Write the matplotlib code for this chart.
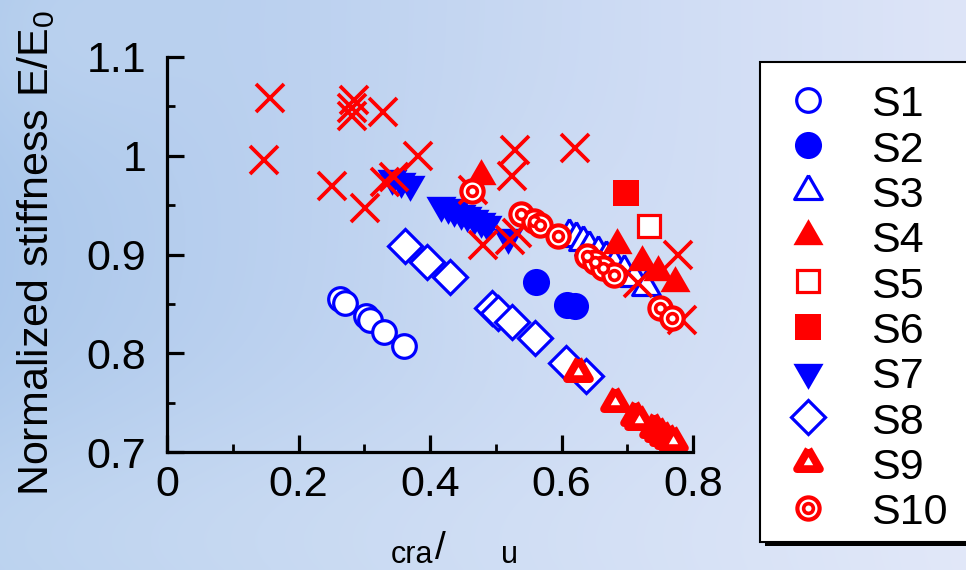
import numpy as np
import matplotlib
matplotlib.use("Agg")
import matplotlib.pyplot as plt
from matplotlib.lines import Line2D
from matplotlib.patches import Rectangle
from matplotlib.ticker import MultipleLocator

plt.rcParams['font.family'] = ['Liberation Sans', 'DejaVu Sans']
plt.rcParams['mathtext.fontset'] = 'custom'
plt.rcParams['mathtext.rm'] = 'Liberation Sans'
plt.rcParams['mathtext.it'] = 'Liberation Sans:italic'

# ---- data: strain ratio vs normalized stiffness ----
s1_x = [0.263, 0.271, 0.303, 0.309, 0.330, 0.360]
s1_y = [0.855, 0.851, 0.838, 0.834, 0.822, 0.807]

s2_x = [0.561, 0.608, 0.620]
s2_y = [0.872, 0.849, 0.848]

s3_x = [0.612, 0.622, 0.632, 0.642, 0.655, 0.668, 0.680, 0.695, 0.710, 0.728]
s3_y = [0.920, 0.917, 0.913, 0.908, 0.903, 0.897, 0.890, 0.883, 0.876, 0.867]

s4_x = [0.478, 0.684, 0.722, 0.747, 0.773]
s4_y = [0.980, 0.910, 0.892, 0.882, 0.871]

s5_x = [0.733]
s5_y = [0.929]

s6_x = [0.698]
s6_y = [0.962]

s7_x = [0.342, 0.356, 0.370, 0.417, 0.427, 0.437, 0.447, 0.457, 0.467, 0.477, 0.487, 0.519]
s7_y = [0.977, 0.974, 0.971, 0.950, 0.948, 0.945, 0.942, 0.940, 0.937, 0.934, 0.931, 0.918]

s8_x = [0.362, 0.395, 0.430, 0.494, 0.503, 0.524, 0.560, 0.607, 0.637]
s8_y = [0.909, 0.892, 0.877, 0.846, 0.841, 0.832, 0.815, 0.790, 0.777]

s9_x = [0.625, 0.681, 0.712, 0.718, 0.740, 0.748, 0.756, 0.764, 0.770]
s9_y = [0.781, 0.751, 0.736, 0.732, 0.724, 0.720, 0.716, 0.713, 0.711]

s10_x = [0.464, 0.538, 0.558, 0.567, 0.595, 0.639, 0.651, 0.663, 0.680, 0.750, 0.768]
s10_y = [0.964, 0.941, 0.934, 0.930, 0.919, 0.898, 0.892, 0.886, 0.879, 0.846, 0.836]

other_x = [0.157, 0.148, 0.284, 0.282, 0.281, 0.329, 0.251, 0.301, 0.332, 0.345, 0.382,
           0.465, 0.529, 0.525, 0.481, 0.522, 0.532, 0.620, 0.716, 0.777, 0.783]
other_y = [1.058, 0.996, 1.056, 1.048, 1.040, 1.044, 0.969, 0.947, 0.973, 0.978, 1.000,
           0.965, 1.006, 0.980, 0.910, 0.915, 0.922, 1.008, 0.871, 0.899, 0.834]

labels = ['S1', 'S2', 'S3', 'S4', 'S5', 'S6', 'S7', 'S8', 'S9', 'S10']
x_ticks = [0, 0.2, 0.4, 0.6, 0.8]
x_ticklabels = ['0', '0.2', '0.4', '0.6', '0.8']
y_ticks = [0.7, 0.8, 0.9, 1.0, 1.1]
y_ticklabels = ['0.7', '0.8', '0.9', '1', '1.1']

BLUE = '#0000ff'
RED = '#ff0000'
W, H = 966, 570

tri_up = [(0, 1), (-0.866, -0.5), (0.866, -0.5), (0, 1)]
tri_dn = [(0, -1), (-0.866, 0.5), (0.866, 0.5), (0, -1)]

# marker styles: list of (marker kwargs) layers per series
styles = [
    [dict(marker='o', ms=17, mfc='white', mec=BLUE, mew=2.3)],
    [dict(marker='o', ms=19.5, mfc=BLUE, mec=BLUE, mew=0)],
    [dict(marker=tri_up, ms=23, mfc='white', mec=BLUE, mew=2.3)],
    [dict(marker=tri_up, ms=25, mfc=RED, mec=RED, mew=0)],
    [dict(marker='s', ms=16, mfc='white', mec=RED, mew=2.3)],
    [dict(marker='s', ms=19, mfc=RED, mec=RED, mew=0)],
    [dict(marker=tri_dn, ms=25, mfc=BLUE, mec=BLUE, mew=0)],
    [dict(marker='D', ms=17.5, mfc='white', mec=BLUE, mew=2.3)],
    [dict(marker=tri_up, ms=19, mfc='white', mec=RED, mew=5.6)],
    [dict(marker='o', ms=16, mfc='white', mec=RED, mew=3.0),
     dict(marker='o', ms=7, mfc='white', mec=RED, mew=2.6)],
]
series = [(s1_x, s1_y), (s2_x, s2_y), (s3_x, s3_y), (s4_x, s4_y), (s5_x, s5_y),
          (s6_x, s6_y), (s7_x, s7_y), (s8_x, s8_y), (s9_x, s9_y), (s10_x, s10_y)]

fig = plt.figure(figsize=(W / 100, H / 100), dpi=100)

# soft blue backdrop
bg = fig.add_axes([0, 0, 1, 1], zorder=-10)
yy, xx = np.mgrid[0:1:285j, 0:1:483j]
left_c = np.array([170, 199, 235]) / 255
right_c = np.array([222, 229, 248]) / 255
t = np.clip(xx ** 0.9, 0, 1)[..., None]
img = left_c * (1 - t) + right_c * t
# lighter band toward the bottom and top-left corner
bright = 0.10 * np.exp(-((yy - 0.95) / 0.25) ** 2) * (1 - 0.5 * xx)
bright += 0.06 * np.exp(-((xx - 0.05) / 0.15) ** 2 - ((yy - 0.05) / 0.2) ** 2)
bright += 0.04 * np.exp(-((xx - 0.55) / 0.12) ** 2 - ((yy - 0.45) / 0.2) ** 2)
img = np.clip(img + bright[..., None] * (1 - img) * 2.2, 0, 1)
bg.imshow(img, aspect='auto', extent=[0, 1, 0, 1], origin='upper', interpolation='bicubic')
bg.set_axis_off()

ax = fig.add_axes([167 / W, 1 - 452 / H, (693 - 167) / W, (452 - 57) / H])
ax.patch.set_alpha(0)

for (sx, sy), layers in zip(series[:8], styles[:8]):
    for st in layers:
        ax.plot(sx, sy, linestyle='none', clip_on=False, **st)
ax.plot(other_x, other_y, linestyle='none', marker='x', ms=20.5, mec=RED, mew=2.7, clip_on=False)
for (sx, sy), layers in zip(series[8:], styles[8:]):
    for st in layers:
        ax.plot(sx, sy, linestyle='none', clip_on=False, **st)

ax.set_xlim(0, 0.8)
ax.set_ylim(0.7, 1.1)
ax.set_xticks(x_ticks)
ax.set_xticklabels(x_ticklabels)
ax.set_yticks(y_ticks)
ax.set_yticklabels(y_ticklabels)
ax.xaxis.set_minor_locator(MultipleLocator(0.1))
ax.yaxis.set_minor_locator(MultipleLocator(0.05))
for side in ('top', 'right'):
    ax.spines[side].set_visible(False)
for side in ('left', 'bottom'):
    ax.spines[side].set_linewidth(2.3)
ax.tick_params(which='major', direction='in', length=12, width=2.3, labelsize=31)
ax.tick_params(which='minor', direction='in', length=6, width=2.0)
ax.tick_params(axis='y', which='major', pad=15)
ax.tick_params(axis='x', which='major', pad=9)

fig.text(36 / W, 1 - 253 / H, 'Normalized stiffness E/E$_\\mathrm{0}$', rotation=90,
         ha='center', va='center', fontsize=31)

# x-axis label pieces
fig.text(391 / W, 1 - 563 / H, 'cra', fontsize=22, ha='left', va='baseline')
fig.text(435 / W, 1 - 559 / H, '/', fontsize=28, ha='left', va='baseline')
fig.text(501 / W, 1 - 563 / H, 'u', fontsize=22, ha='left', va='baseline')

# legend box with drop shadow
fig.add_artist(Rectangle((765 / W, 1 - 546 / H), 240 / W, (546 - 66) / H,
                         transform=fig.transFigure, facecolor='black', edgecolor='none', zorder=5))
fig.add_artist(Rectangle((760 / W, 1 - 542 / H), 240 / W, (542 - 62) / H,
                         transform=fig.transFigure, facecolor='white', edgecolor='black',
                         linewidth=1.5, zorder=6))
row0, step = 100, 45.3
for i, (lab, layers) in enumerate(zip(labels, styles)):
    yc = 1 - (row0 + step * i) / H
    for st in layers:
        fig.add_artist(Line2D([808 / W], [yc], transform=fig.transFigure,
                              linestyle='none', zorder=7, **st))
    fig.text(871 / W, 1 - (row0 + 16.5 + step * i) / H, lab, fontsize=31,
             ha='left', va='baseline', zorder=7)

fig.savefig('out.png', dpi=100)
